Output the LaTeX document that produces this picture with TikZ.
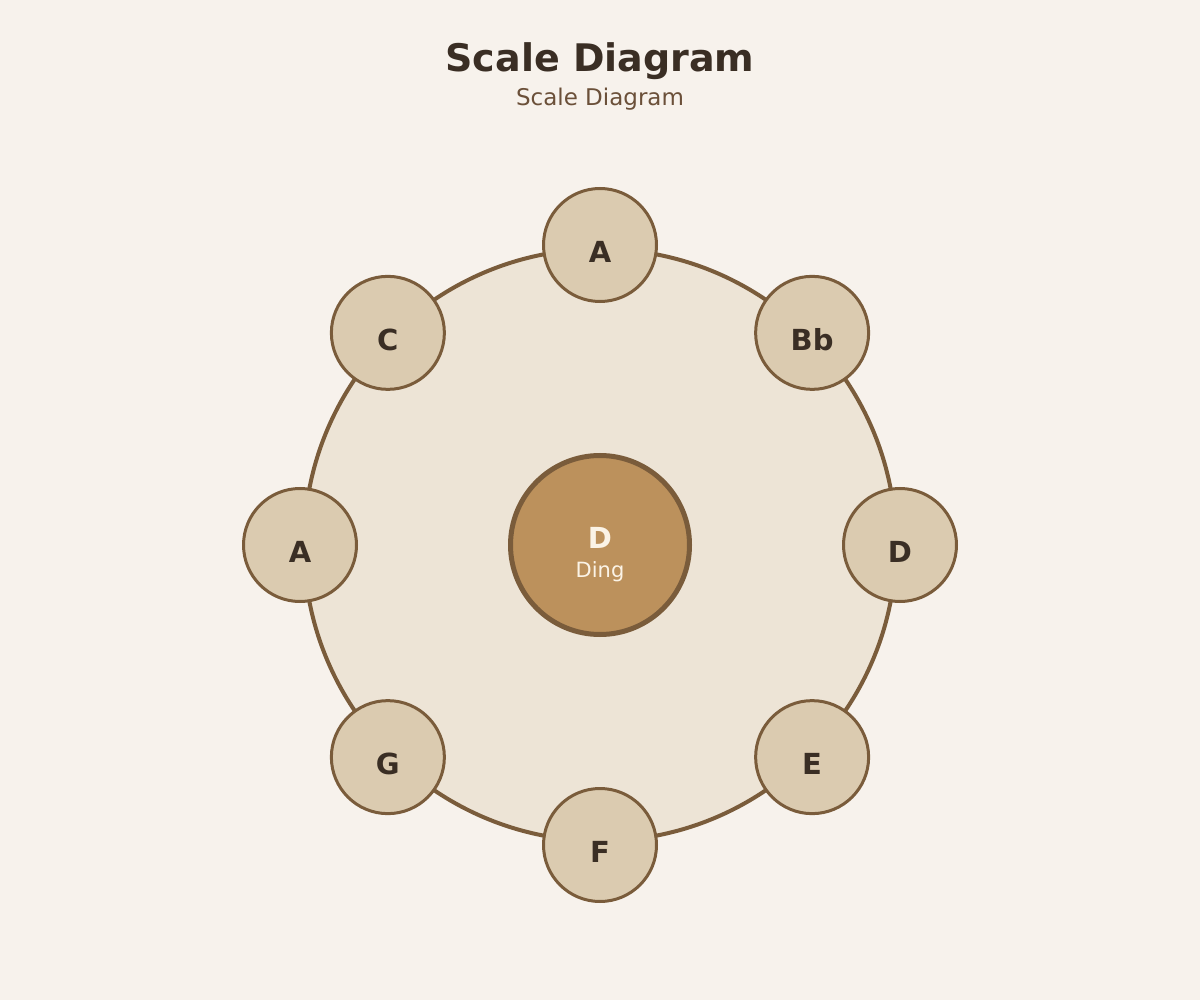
\documentclass[tikz,border=0pt]{standalone}
\usepackage{fontspec}
\setmainfont{DejaVu Sans}
\definecolor{bg}{HTML}{F7F2EC}
\definecolor{ringfill}{HTML}{EDE4D6}
\definecolor{stroke}{HTML}{7A5C3B}
\definecolor{notefill}{HTML}{DBCBB0}
\definecolor{dingfill}{HTML}{BC915C}
\definecolor{ink}{HTML}{3A2E24}
\definecolor{subink}{HTML}{6B5039}
\definecolor{light}{HTML}{FBF3E6}
\tikzset{
  notecirc/.style={circle, draw=stroke, line width=3pt, fill=notefill, minimum size=113pt, inner sep=0pt},
  notelabel/.style={text=ink, font=\bfseries\fontsize{29}{29}\selectfont, anchor=center},
}
\begin{document}
\begin{tikzpicture}[x=1pt,y=-1pt]
\useasboundingbox (0,0) rectangle (1200,1000);
\fill[bg] (0,0) rectangle (1200,1000);
\node[text=ink, font=\bfseries\fontsize{38}{38}\selectfont] (title) at (600,61) {Scale Diagram};
\node[text=subink, font=\fontsize{23}{23}\selectfont] (sub) at (600,99) {Scale Diagram};
\node[circle, draw=stroke, line width=4pt, fill=ringfill, minimum size=592pt, inner sep=0pt] (ring) at (600,545) {};
\node[circle, draw=stroke, line width=5pt, fill=dingfill, minimum size=179pt, inner sep=0pt] (ding) at (600,545) {};
\node[text=light, font=\bfseries\fontsize{29}{29}\selectfont] (dingnote) at (600,538) {D};
\node[text=light, font=\fontsize{21}{21}\selectfont] (dinglabel) at (600,572) {Ding};
\foreach \ang/\txt/\nm in {90/A/n1, 45/Bb/n2, 0/D/n3, -45/E/n4, -90/F/n5, -135/G/n6, 180/A/n7, 135/C/n8}{
  \node[notecirc] (\nm) at ({600+300*cos(\ang)},{545-300*sin(\ang)}) {};
  \node[notelabel] (\nm t) at ({600+300*cos(\ang)},{552-300*sin(\ang)}) {\txt};
}
\end{tikzpicture}
\end{document}
